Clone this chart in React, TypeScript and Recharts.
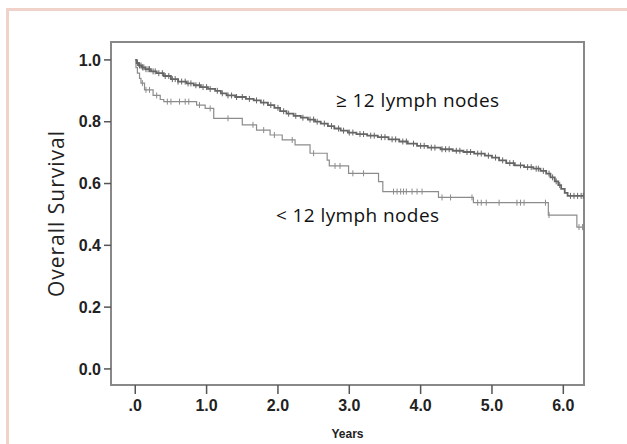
import React from "react";
import {
  ComposedChart,
  Line,
  Scatter,
  XAxis,
  YAxis,
  ReferenceArea,
  Label,
} from "recharts";

// ≥ 12 lymph nodes: Kaplan-Meier steps (years, survival)
const upperTimes = [0, 0.02, 0.05, 0.09, 0.14, 0.22, 0.3, 0.4, 0.5, 0.6, 0.72, 0.82, 0.92, 1.02, 1.12, 1.2, 1.28, 1.4, 1.55, 1.66, 1.76, 1.86, 1.95, 2.03, 2.12, 2.22, 2.32, 2.42, 2.52, 2.6, 2.7, 2.79, 2.88, 2.98, 3.1, 3.25, 3.4, 3.55, 3.7, 3.82, 3.95, 4.1, 4.28, 4.45, 4.6, 4.75, 4.9, 5.0, 5.1, 5.2, 5.32, 5.45, 5.58, 5.68, 5.76, 5.82, 5.88, 5.93, 5.97, 6.02, 6.06, 6.29];
const upperSurv = [1.0, 0.99, 0.982, 0.976, 0.97, 0.963, 0.957, 0.948, 0.938, 0.93, 0.924, 0.918, 0.912, 0.906, 0.9, 0.892, 0.885, 0.88, 0.874, 0.869, 0.862, 0.854, 0.845, 0.834, 0.826, 0.819, 0.813, 0.807, 0.8, 0.794, 0.786, 0.778, 0.771, 0.765, 0.76, 0.755, 0.75, 0.743, 0.736, 0.729, 0.722, 0.716, 0.711, 0.706, 0.702, 0.697, 0.69, 0.684, 0.675, 0.666, 0.659, 0.653, 0.648, 0.641, 0.632, 0.62, 0.607, 0.595, 0.583, 0.57, 0.56, 0.56];
const upperCensored = [0.03, 0.06, 0.08, 0.1, 0.12, 0.15, 0.18, 0.2, 0.25, 0.28, 0.33, 0.38, 0.42, 0.47, 0.52, 0.56, 0.6, 0.65, 0.7, 0.74, 0.78, 0.85, 0.9, 0.95, 1.0, 1.05, 1.15, 1.22, 1.3, 1.35, 1.42, 1.5, 1.6, 1.7, 1.8, 1.9, 2.0, 2.08, 2.15, 2.25, 2.35, 2.45, 2.5, 2.55, 2.65, 2.75, 2.85, 2.92, 3.0, 3.05, 3.15, 3.2, 3.3, 3.35, 3.45, 3.5, 3.6, 3.65, 3.75, 3.8, 3.9, 4.0, 4.05, 4.15, 4.2, 4.3, 4.35, 4.4, 4.5, 4.55, 4.65, 4.7, 4.8, 4.85, 4.95, 5.05, 5.15, 5.25, 5.3, 5.4, 5.5, 5.55, 5.62, 5.65, 5.72, 5.8, 5.85, 5.9, 5.95, 6.1, 6.15, 6.2, 6.25, 6.28];

// < 12 lymph nodes
const lowerTimes = [0, 0.01, 0.03, 0.06, 0.08, 0.13, 0.25, 0.35, 0.4, 0.86, 0.98, 1.1, 1.5, 1.7, 1.89, 2.06, 2.24, 2.45, 2.69, 2.72, 2.99, 3.41, 3.47, 4.25, 4.74, 5.79, 6.19, 6.29];
const lowerSurv = [1.0, 0.975, 0.957, 0.94, 0.925, 0.903, 0.885, 0.872, 0.865, 0.854, 0.843, 0.811, 0.79, 0.773, 0.757, 0.741, 0.725, 0.698, 0.676, 0.657, 0.633, 0.606, 0.574, 0.555, 0.538, 0.498, 0.459, 0.459];
const lowerCensored = [0.1, 0.15, 0.2, 0.3, 0.45, 0.5, 0.62, 0.7, 0.75, 0.9, 1.05, 1.3, 1.65, 1.8, 1.95, 2.2, 2.5, 2.8, 2.87, 3.05, 3.2, 3.62, 3.67, 3.72, 3.76, 3.8, 3.88, 3.95, 4.02, 4.3, 4.42, 4.72, 4.8, 4.85, 4.92, 5.1, 5.35, 5.4, 5.45, 5.75, 5.8, 6.22, 6.27];

const xTicks = [0, 1, 2, 3, 4, 5, 6];
const yTicks = [0, 0.2, 0.4, 0.6, 0.8, 1.0];
const upperLabel = "≥ 12 lymph nodes";
const lowerLabel = "< 12 lymph nodes";
const xTitle = "Years";
const yTitle = "Overall Survival";

const toSeries = (ts: number[], ss: number[]) => ts.map((t, i) => ({ t, s: ss[i] }));
const survAt = (ts: number[], ss: number[], t: number) => {
  let v = ss[0];
  for (let i = 0; i < ts.length; i++) if (ts[i] <= t) v = ss[i];
  return v;
};
const censorSeries = (ts: number[], ss: number[], cs: number[]) =>
  cs.map((t) => ({ t, s: survAt(ts, ss, t) }));

const upperData = toSeries(upperTimes, upperSurv);
const lowerData = toSeries(lowerTimes, lowerSurv);
const upperCens = censorSeries(upperTimes, upperSurv, upperCensored);
const lowerCens = censorSeries(lowerTimes, lowerSurv, lowerCensored);

const UPPER = "#666666";
const LOWER = "#8c8c8c";

const tickMark = (color: string) => (props: any) => {
  const { cx, cy } = props;
  return <line x1={cx} x2={cx} y1={cy - 3} y2={cy + 3} stroke={color} strokeWidth={1} />;
};

const tickStyle = { fontFamily: "Arial, 'Liberation Sans', sans-serif", fontSize: 16, fill: "#222", fontWeight: 700 };

const annStyle: React.CSSProperties = {
  position: "absolute",
  fontFamily: "'Open Sans', Lato, sans-serif",
  fontSize: 19,
  letterSpacing: 0.4,
  color: "#111",
  whiteSpace: "nowrap",
  lineHeight: "22px",
};

export default function App() {
  return (
    <div style={{ position: "relative", width: 627, height: 444, background: "#fff" }}>
      <style>{`body{margin:0;}`}</style>
      <div
        style={{
          position: "absolute",
          left: 6,
          top: 8,
          width: 621,
          height: 436,
          borderTop: "3px solid #f0d2ca",
          borderLeft: "3px solid #f0d2ca",
          boxSizing: "border-box",
        }}
      />
      <div style={{ position: "absolute", left: 0, top: 0 }}>
        <ComposedChart width={627} height={444} margin={{ top: 42, right: 43, left: 0, bottom: 0 }}>
          <XAxis
            type="number"
            dataKey="t"
            domain={[-0.34, 6.29]}
            allowDataOverflow
            ticks={xTicks}
            tickFormatter={(v: number) => (v === 0 ? ".0" : v.toFixed(1))}
            height={59}
            axisLine={{ stroke: "#888", strokeWidth: 2 }}
            tickLine={{ stroke: "#555", strokeWidth: 1.5 }}
            tickSize={9}
            tickMargin={6}
            tick={tickStyle}
          >
            <Label
              value={xTitle}
              position="insideBottom"
              offset={6}
              style={{ fontFamily: "Arial, 'Liberation Sans', sans-serif", fontSize: 12, fontWeight: 700, fill: "#222" }}
            />
          </XAxis>
          <YAxis
            type="number"
            dataKey="s"
            domain={[-0.052, 1.058]}
            allowDataOverflow
            ticks={yTicks}
            tickFormatter={(v: number) => v.toFixed(1)}
            width={111}
            axisLine={{ stroke: "#888", strokeWidth: 2 }}
            tickLine={{ stroke: "#555", strokeWidth: 1.5 }}
            tickSize={7}
            tickMargin={3}
            tick={tickStyle}
          >
            <Label
              value={yTitle}
              angle={-90}
              position="insideLeft"
              offset={57}
              style={{ textAnchor: "middle", fontFamily: "'Open Sans', sans-serif", fontSize: 21, letterSpacing: 1, fill: "#222" }}
            />
          </YAxis>
          <ReferenceArea
            x1={-0.34}
            x2={6.29}
            y1={-0.052}
            y2={1.058}
            fill="none"
            stroke="#888"
            strokeWidth={2}
            ifOverflow="visible"
          />
          <Line
            data={lowerData}
            dataKey="s"
            type="stepAfter"
            stroke={LOWER}
            strokeWidth={1.2}
            dot={false}
            isAnimationActive={false}
          />
          <Line
            data={upperData}
            dataKey="s"
            type="stepAfter"
            stroke={UPPER}
            strokeWidth={1.8}
            dot={false}
            isAnimationActive={false}
          />
          <Scatter data={lowerCens} dataKey="s" shape={tickMark(LOWER)} isAnimationActive={false} />
          <Scatter data={upperCens} dataKey="s" shape={tickMark(UPPER)} isAnimationActive={false} />
        </ComposedChart>
      </div>
      <div style={{ ...annStyle, left: 336, top: 89 }}>{upperLabel}</div>
      <div style={{ ...annStyle, left: 276, top: 204 }}>{lowerLabel}</div>
    </div>
  );
}
